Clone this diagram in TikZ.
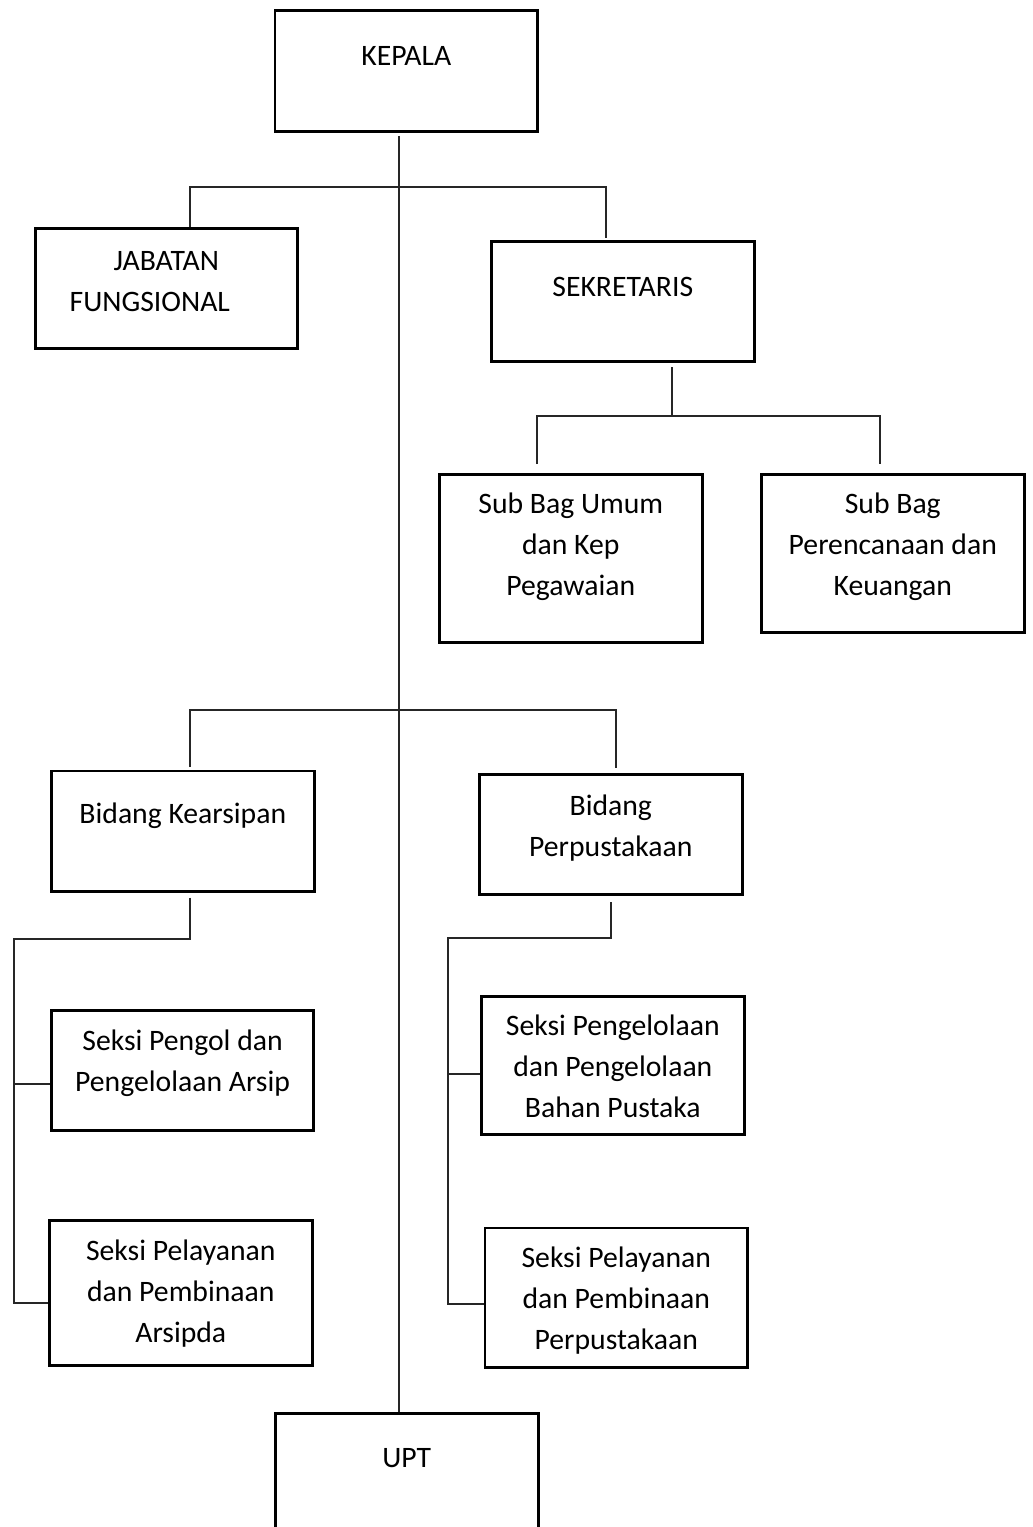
\documentclass[tikz,border=0pt]{standalone}
\usepackage{fontspec}
\setmainfont{Carlito}
\usetikzlibrary{positioning}

\tikzset{
  orgbox/.style={draw, line width=1.5pt, anchor=north west, inner sep=0pt, minimum width=5.26cm},
  orgtext/.style={align=center, inner sep=0pt, font=\fontsize{16.9}{23.34}\selectfont},
  link/.style={draw=black!85, line width=0.8pt}
}

\begin{document}
\begin{tikzpicture}[x=0.02cm, y=-0.02cm]
  \useasboundingbox (0,0) rectangle (1032,1527);

  % Boxes
  \node[orgbox, minimum height=2.41cm] (kepala) at (273.5,9.5) {};
  \node[orgbox, minimum width=5.24cm, minimum height=2.4cm] (jabatan) at (34,227.5) {};
  \node[orgbox, minimum height=2.4cm] (sekretaris) at (490,240) {};
  \node[orgbox, minimum height=3.36cm] (umum) at (438,473) {};
  \node[orgbox, minimum height=3.16cm] (rencana) at (760,473) {};
  \node[orgbox, minimum height=2.41cm] (kearsipan) at (50,769.5) {};
  \node[orgbox, minimum height=2.4cm] (perpus) at (478,773) {};
  \node[orgbox, minimum width=5.25cm, minimum height=2.4cm] (pengol) at (50,1009) {};
  \node[orgbox, minimum height=2.9cm] (arsipda) at (48,1219) {};
  \node[orgbox, minimum height=2.76cm] (bahan) at (480,995) {};
  \node[orgbox, minimum height=2.8cm] (layanan) at (483.5,1226.5) {};
  \node[orgbox, minimum height=2.7cm] (upt) at (274,1412) {};

  % Texts
  \node[orgtext, below=0.73cm of kepala.north] (kepala-t) {KEPALA};
  \node[orgtext, below=0.48cm of jabatan.north] (jabatan-t) {JABATAN\\FUNGSIONAL\rule{0.66cm}{0pt}};
  \node[orgtext, below=0.73cm of sekretaris.north] (sekretaris-t) {SEKRETARIS};
  \node[orgtext, below=0.40cm of umum.north] (umum-t) {Sub Bag Umum\\dan Kep\\Pegawaian};
  \node[orgtext, below=0.40cm of rencana.north] (rencana-t) {Sub Bag\\Perencanaan dan\\Keuangan};
  \node[orgtext, below=0.67cm of kearsipan.north] (kearsipan-t) {Bidang Kearsipan};
  \node[orgtext, below=0.44cm of perpus.north] (perpus-t) {Bidang\\Perpustakaan};
  \node[orgtext, below=0.42cm of pengol.north] (pengol-t) {Seksi Pengol dan\\Pengelolaan Arsip};
  \node[orgtext, below=0.42cm of arsipda.north] (arsipda-t) {Seksi Pelayanan\\dan Pembinaan\\Arsipda};
  \node[orgtext, below=0.40cm of bahan.north] (bahan-t) {Seksi Pengelolaan\\dan Pengelolaan\\Bahan Pustaka};
  \node[orgtext, below=0.41cm of layanan.north] (layanan-t) {Seksi Pelayanan\\dan Pembinaan\\Perpustakaan};
  \node[orgtext, below=0.72cm of upt.north] (upt-t) {UPT};

  % Junctions
  \coordinate (spine) at (399,136);
  \coordinate (top-l) at (190,187);
  \coordinate (top-r) at (606,187);
  \coordinate (sek-stem) at (672,367);
  \coordinate (sub-l) at (537,416);
  \coordinate (sub-r) at (880,416);
  \coordinate (bid-l) at (190,710);
  \coordinate (bid-r) at (616,710);
  \coordinate (ars-bus) at (190,939);
  \coordinate (ars-rail) at (14,939);
  \coordinate (ars-mid) at (14,1084);
  \coordinate (ars-end) at (14,1303);
  \coordinate (pus-bus) at (611,938);
  \coordinate (pus-rail) at (448,938);
  \coordinate (pus-mid) at (448,1074);
  \coordinate (pus-end) at (448,1304);

  % Connectors
  \draw[link] (spine) -- (spine |- upt.north);
  \draw[link, shorten >=0.04cm] (top-l |- jabatan.north) -- (top-l) -- (top-r) -- (top-r |- sekretaris.north);
  \draw[link] (sek-stem) -- (sek-stem |- sub-l);
  \draw[link, shorten <=0.18cm, shorten >=0.18cm] (sub-l |- umum.north) -- (sub-l) -- (sub-r) -- (sub-r |- rencana.north);
  \draw[link, shorten <=0.05cm, shorten >=0.1cm] (bid-l |- kearsipan.north) -- (bid-l) -- (bid-r) -- (bid-r |- perpus.north);
  \draw[link, shorten <=0.1cm] (ars-bus |- kearsipan.south) -- (ars-bus) -- (ars-rail) -- (ars-end) -- (ars-end -| arsipda.west);
  \draw[link] (ars-mid) -- (ars-mid -| pengol.west);
  \draw[link, shorten <=0.13cm] (pus-bus |- perpus.south) -- (pus-bus) -- (pus-rail) -- (pus-end) -- (pus-end -| layanan.west);
  \draw[link] (pus-mid) -- (pus-mid -| bahan.west);
\end{tikzpicture}
\end{document}
